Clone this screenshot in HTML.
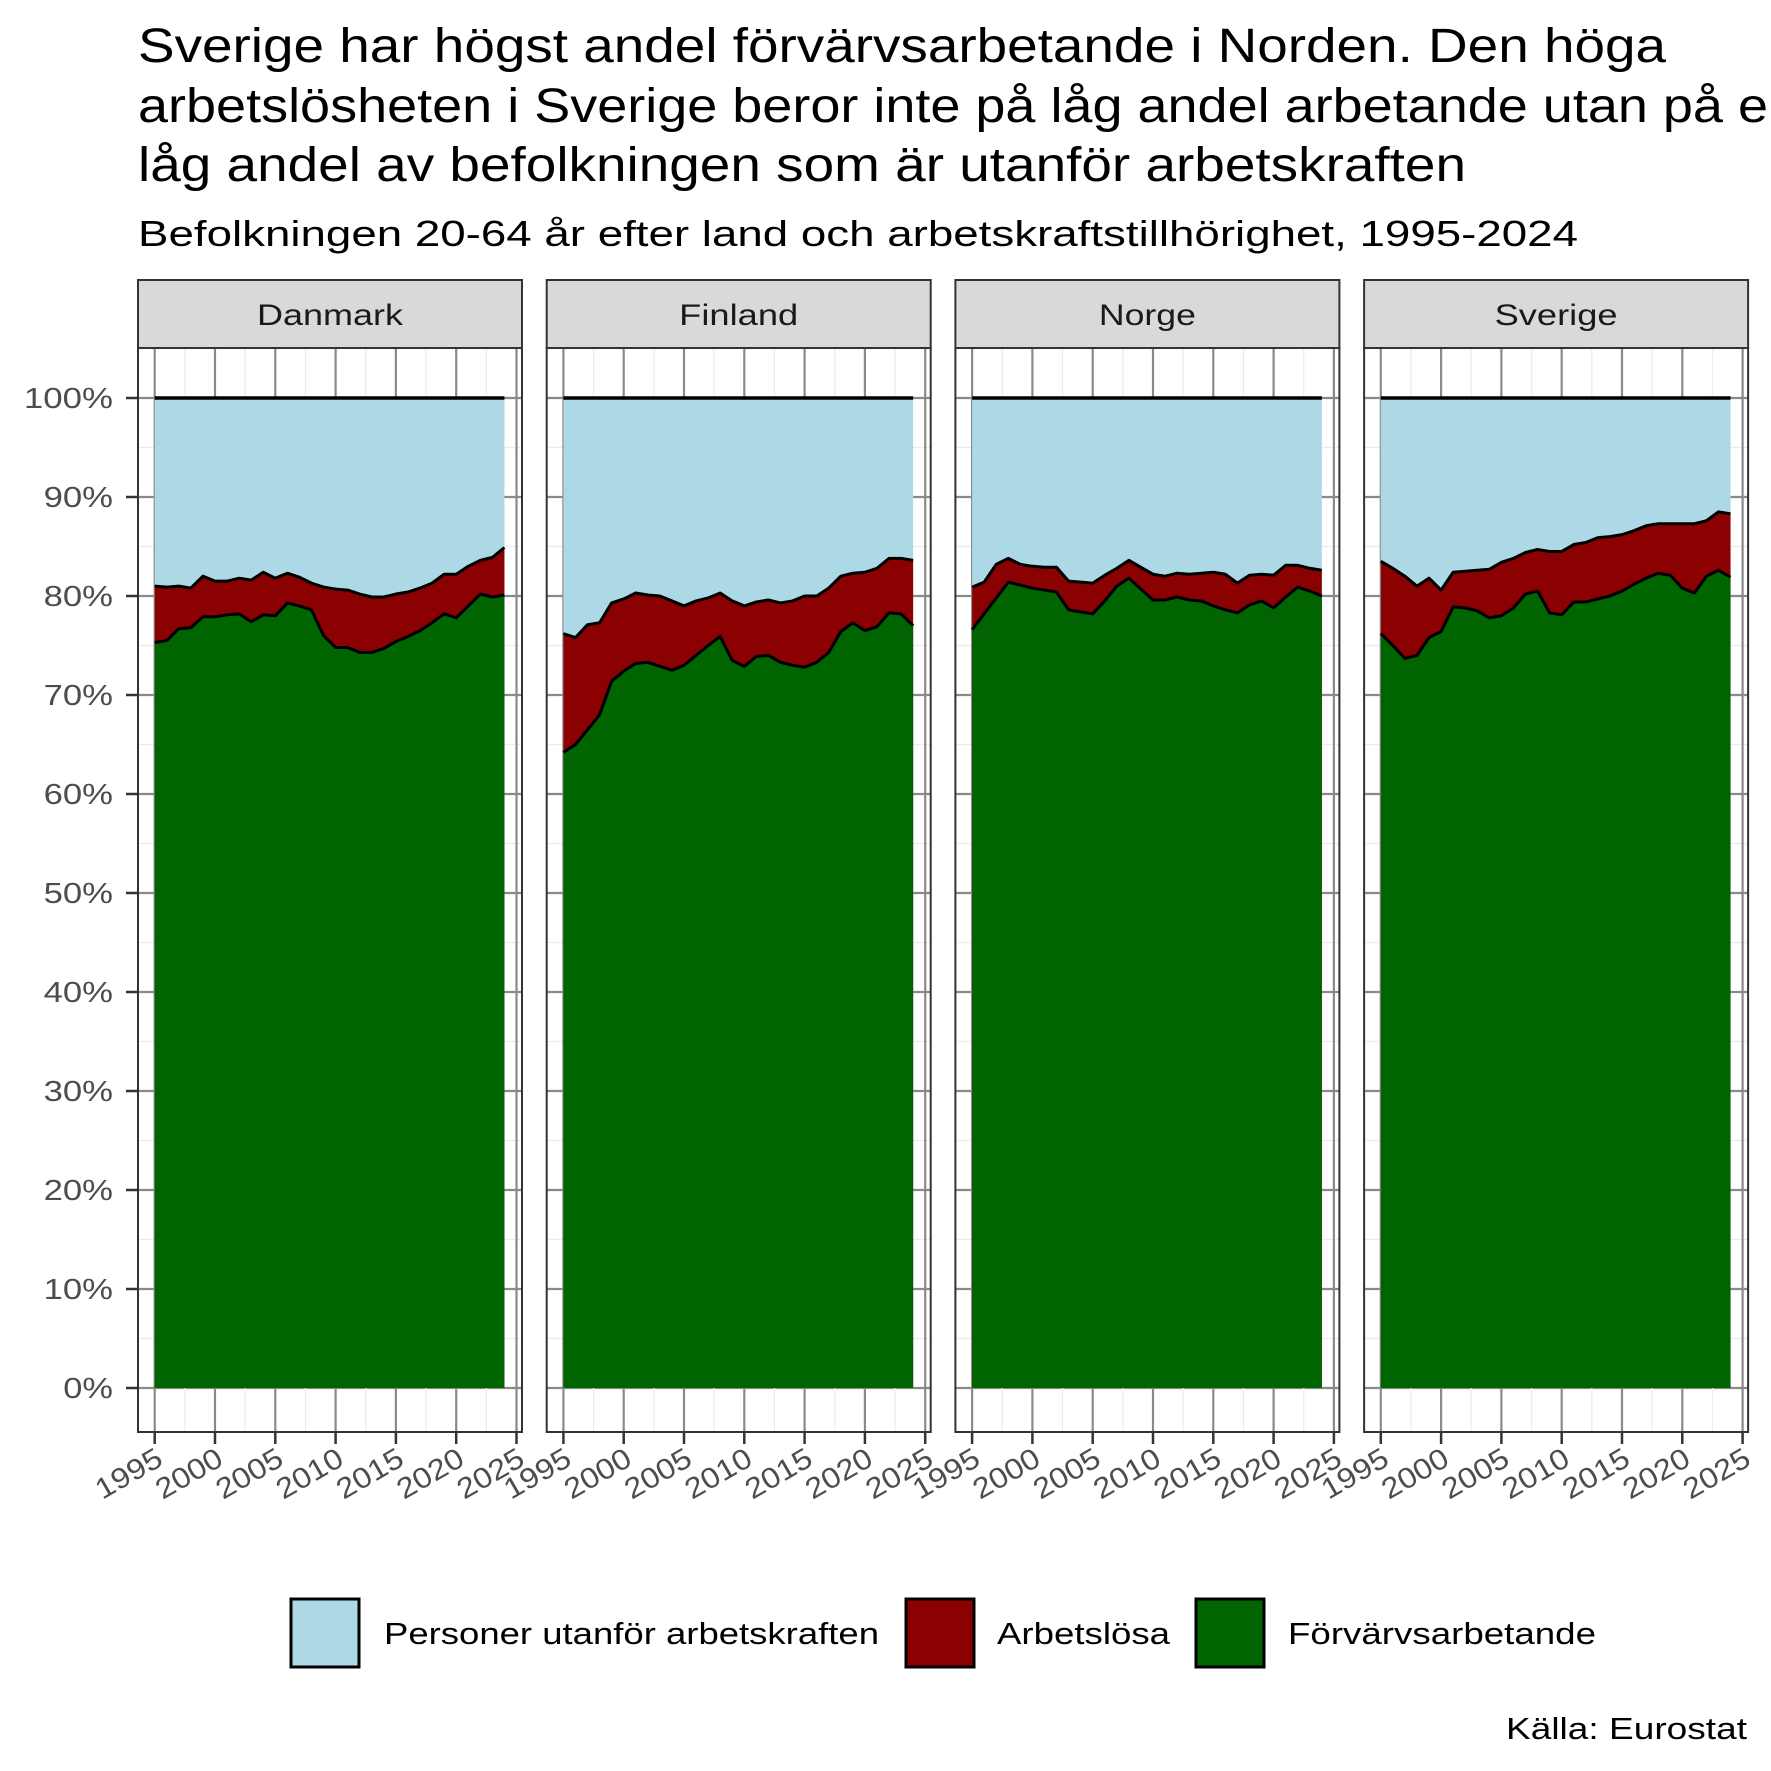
<!DOCTYPE html>
<html><head><meta charset="utf-8"><style>
html,body{margin:0;padding:0;background:#fff}
svg{display:block}
text{font-family:"Liberation Sans",Arial,sans-serif}
</style></head><body>
<svg id="s" width="1771" height="1771" viewBox="0 0 1771 1771" xmlns="http://www.w3.org/2000/svg">
<rect width="1771" height="1771" fill="#fff"/>
<text x="138" y="62" font-size="48" textLength="1528" lengthAdjust="spacingAndGlyphs">Sverige har högst andel förvärvsarbetande i Norden. Den höga</text>
<text x="138" y="122" font-size="48" textLength="1660" lengthAdjust="spacingAndGlyphs">arbetslösheten i Sverige beror inte på låg andel arbetande utan på en</text>
<text x="138" y="181" font-size="48" textLength="1328" lengthAdjust="spacingAndGlyphs">låg andel av befolkningen som är utanför arbetskraften</text>
<text x="138" y="246" font-size="36" textLength="1440" lengthAdjust="spacingAndGlyphs">Befolkningen 20-64 år efter land och arbetskraftstillhörighet, 1995-2024</text>
<g id="g"></g>
<rect x="291" y="1599" width="68" height="68" fill="#add8e6" stroke="#000" stroke-width="3"/>
<text x="384" y="1644" font-size="31" textLength="495" lengthAdjust="spacingAndGlyphs">Personer utanför arbetskraften</text>
<rect x="906" y="1599" width="68" height="68" fill="#8b0000" stroke="#000" stroke-width="3"/>
<text x="997" y="1644" font-size="31" textLength="173" lengthAdjust="spacingAndGlyphs">Arbetslösa</text>
<rect x="1196" y="1599" width="68" height="68" fill="#006400" stroke="#000" stroke-width="3"/>
<text x="1288" y="1644" font-size="31" textLength="308" lengthAdjust="spacingAndGlyphs">Förvärvsarbetande</text>
<text x="1506" y="1739" font-size="31" textLength="241" lengthAdjust="spacingAndGlyphs">Källa: Eurostat</text>
</svg>
<script>
var D={
Danmark:[[75.3,75.5,76.7,76.8,77.9,77.9,78.1,78.2,77.4,78.1,78.0,79.3,79.0,78.6,76.0,74.8,74.8,74.3,74.3,74.7,75.4,75.9,76.5,77.3,78.2,77.8,79.0,80.2,79.9,80.1],
[81.0,80.9,81.0,80.8,82.0,81.5,81.5,81.8,81.6,82.4,81.8,82.3,81.9,81.3,80.9,80.7,80.6,80.2,79.9,79.9,80.2,80.4,80.8,81.3,82.2,82.2,83.0,83.6,83.9,84.9]],
Finland:[[64.2,65.0,66.5,68.0,71.4,72.4,73.2,73.3,72.9,72.5,73.0,74.0,75.0,75.9,73.5,72.9,73.9,74.0,73.3,73.0,72.8,73.3,74.3,76.4,77.3,76.5,76.9,78.3,78.2,77.0],
[76.2,75.8,77.1,77.3,79.3,79.7,80.3,80.1,80.0,79.5,79.0,79.5,79.8,80.3,79.5,79.0,79.4,79.6,79.3,79.5,80.0,80.0,80.8,82.0,82.3,82.4,82.8,83.8,83.8,83.6]],
Norge:[[76.6,78.2,79.8,81.4,81.1,80.8,80.6,80.4,78.6,78.4,78.2,79.5,81.0,81.8,80.7,79.6,79.6,79.9,79.6,79.5,79.0,78.6,78.3,79.1,79.5,78.8,79.9,80.9,80.5,80.0],
[80.9,81.4,83.2,83.8,83.2,83.0,82.9,82.9,81.5,81.4,81.3,82.1,82.8,83.6,82.9,82.2,82.0,82.3,82.2,82.3,82.4,82.2,81.3,82.1,82.2,82.1,83.1,83.1,82.8,82.6]],
Sverige:[[76.2,75.0,73.7,74.0,75.8,76.4,78.9,78.8,78.5,77.8,78.0,78.8,80.2,80.5,78.3,78.1,79.4,79.4,79.7,80.0,80.5,81.2,81.8,82.3,82.1,80.8,80.3,82.0,82.6,81.9],
[83.5,82.8,82.0,81.0,81.8,80.6,82.4,82.5,82.6,82.7,83.4,83.8,84.4,84.7,84.5,84.5,85.2,85.4,85.9,86.0,86.2,86.6,87.1,87.3,87.3,87.3,87.3,87.6,88.5,88.3]]};
var names=["Danmark","Finland","Norge","Sverige"];
var SW={Danmark:146,Finland:119,Norge:97,Sverige:123};
var h="";
function Y(v){return 1388-v*9.9;}
var T=348,B=1432,W=384;
names.forEach(function(n,i){
 var L=138+i*408.7, R=L+W;
 function X(yr){return L+16.7+(yr-1995)*12.06;}
 h+='<rect x="'+L+'" y="'+T+'" width="'+W+'" height="'+(B-T)+'" fill="#fff"/>';
 for(var v=-5;v<=105;v+=5){var y=Y(v);if(y<T||y>B)continue;
  h+='<line x1="'+L+'" x2="'+R+'" y1="'+y+'" y2="'+y+'" stroke="'+(v%10?'#ebebeb':'#8a8a8a')+'" stroke-width="'+(v%10?1.2:2.2)+'"/>';}
 for(var yr=1992.5;yr<=2027.5;yr+=2.5){var x=X(yr);if(x<L||x>R)continue;
  var maj=(yr%5===0);
  h+='<line x1="'+x+'" x2="'+x+'" y1="'+T+'" y2="'+B+'" stroke="'+(maj?'#8a8a8a':'#ebebeb')+'" stroke-width="'+(maj?2.2:1.2)+'"/>';}
 var e=D[n][0],lf=D[n][1],k,p;
 var x0=X(1995),x1=X(2024);
 h+='<rect x="'+x0+'" y="'+Y(100)+'" width="'+(x1-x0)+'" height="'+(Y(0)-Y(100))+'" fill="#add8e6"/>';
 p='M'+x0+','+Y(0);for(k=0;k<30;k++)p+=' L'+X(1995+k)+','+Y(lf[k]);p+=' L'+x1+','+Y(0)+'Z';
 h+='<path d="'+p+'" fill="#8b0000"/>';
 p='M'+x0+','+Y(0);for(k=0;k<30;k++)p+=' L'+X(1995+k)+','+Y(e[k]);p+=' L'+x1+','+Y(0)+'Z';
 h+='<path d="'+p+'" fill="#006400"/>';
 [e,lf].forEach(function(a){var q='';for(k=0;k<30;k++)q+=(k?' L':'M')+X(1995+k)+','+Y(a[k]);
  h+='<path d="'+q+'" fill="none" stroke="#000" stroke-width="3" stroke-linejoin="round"/>';});
 h+='<line x1="'+x0+'" x2="'+x1+'" y1="'+Y(100)+'" y2="'+Y(100)+'" stroke="#000" stroke-width="3.5"/>';
 h+='<rect x="'+L+'" y="'+T+'" width="'+W+'" height="'+(B-T)+'" fill="none" stroke="#333" stroke-width="2"/>';
 h+='<rect x="'+L+'" y="280" width="'+W+'" height="'+(T-280)+'" fill="#d9d9d9" stroke="#333" stroke-width="2"/>';
 h+='<text x="'+(L+W/2-SW[n]/2)+'" y="325" font-size="30" textLength="'+SW[n]+'" lengthAdjust="spacingAndGlyphs" fill="#1a1a1a">'+n+'</text>';
 for(yr=1995;yr<=2025;yr+=5){var x=X(yr);
  h+='<line x1="'+x+'" x2="'+x+'" y1="'+B+'" y2="'+(B+12)+'" stroke="#333" stroke-width="2.5"/>';
  h+='<g transform="translate('+(x+10)+','+(B+32)+') rotate(-30)"><text x="-72" y="0" font-size="29" textLength="72" lengthAdjust="spacingAndGlyphs" fill="#4d4d4d">'+yr+'</text></g>';}
});
for(var v=0;v<=100;v+=10){var y=Y(v);
 var s=v+'%',tl=19.7*(s.length-1)+30;
 h+='<line x1="126" x2="138" y1="'+y+'" y2="'+y+'" stroke="#333" stroke-width="2.5"/>';
 h+='<text x="'+(113-tl)+'" y="'+(y+10)+'" font-size="29" textLength="'+tl+'" lengthAdjust="spacingAndGlyphs" fill="#4d4d4d">'+s+'</text>';}
document.getElementById('g').innerHTML=h;
</script>
</body></html>
